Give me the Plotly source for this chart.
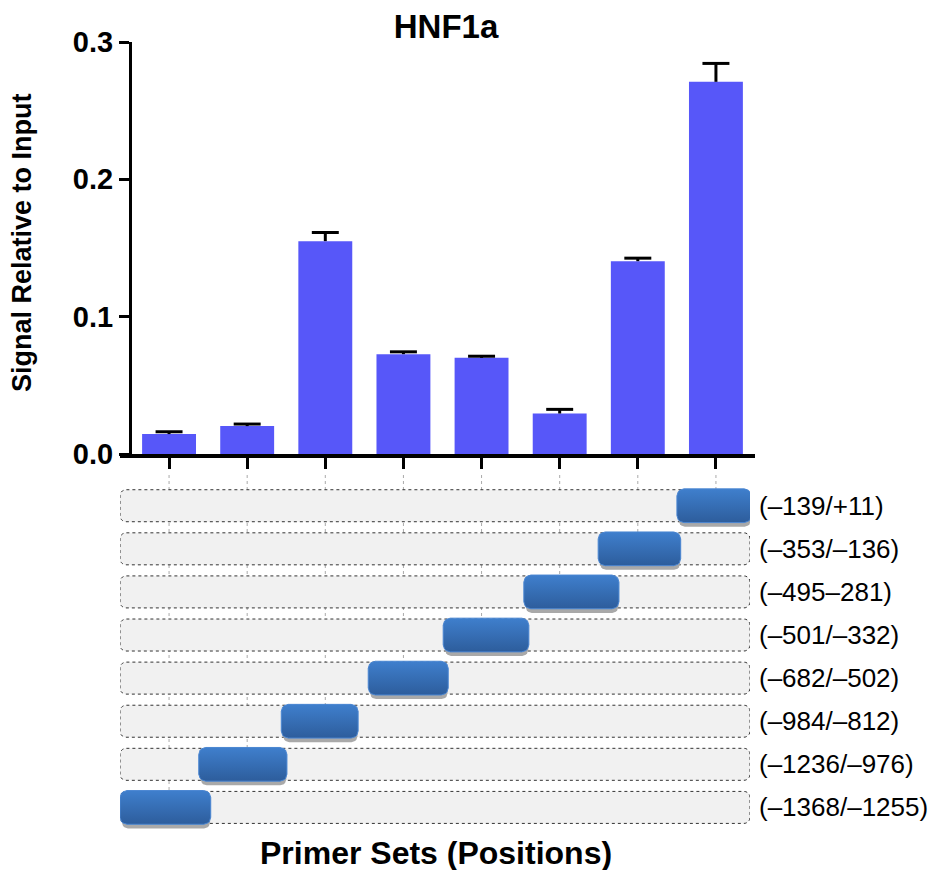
import numpy as np
import plotly.graph_objects as go

# ---------------- data ----------------
bar_pos = [0, 1, 2, 3, 4, 5, 6, 7]
signal = [0.0145, 0.0203, 0.155, 0.0727, 0.0700, 0.0295, 0.1404, 0.271]
signal_err = [0.0017, 0.0015, 0.0063, 0.0017, 0.0012, 0.0030, 0.0022, 0.0134]

primer_labels = ["(–1368/–1255)", "(–1236/–976)", "(–984/–812)", "(–682/–502)",
                 "(–501/–332)", "(–495–281)", "(–353/–136)", "(–139/+11)"]
# schematic position along the promoter track (0 = left end, 100 = right end)
box_start = [0.0, 12.5, 25.6, 39.4, 51.3, 64.1, 75.9, 88.4]
box_end = [14.4, 26.5, 37.8, 52.1, 64.9, 79.2, 89.0, 100.2]
track_start, track_end = 0, 100
rows = list(range(len(primer_labels)))  # 0 = bottom row

W, H = 933, 870
FONT = "Liberation Sans, Arial, Helvetica, sans-serif"

# ---------------- geometry helpers ----------------
px_per_x2 = (750 - 120) / 100.0
px_per_y2 = 43.1
HALF = 16 / px_per_y2
CAP = 13.5 / 78.2  # half cap width in category units


def rrect(x0, x1, y0, y1, rpx=6, n=6):
    rx = rpx / px_per_x2
    ry = rpx / px_per_y2
    xs, ys = [], []
    corners = [(x1 - rx, y1 - ry, 0), (x0 + rx, y1 - ry, 90),
               (x0 + rx, y0 + ry, 180), (x1 - rx, y0 + ry, 270)]
    for cx, cy, a0 in corners:
        for t in np.linspace(np.radians(a0), np.radians(a0 + 90), n):
            xs.append(cx + rx * np.cos(t))
            ys.append(cy + ry * np.sin(t))
    xs.append(xs[0])
    ys.append(ys[0])
    return xs, ys


def path_of(xs, ys):
    return "M " + " L ".join(f"{x:.4f},{y:.4f}" for x, y in zip(xs, ys)) + " Z"


fig = go.Figure()

# ---------------- bar chart ----------------
fig.add_trace(go.Bar(
    x=bar_pos, y=signal, width=0.69,
    marker=dict(color="#5757F9", line=dict(width=0)),
    xaxis="x", yaxis="y", showlegend=False, hoverinfo="skip"))

# upper-only error bars
ex, ey = [], []
for i, s, e in zip(bar_pos, signal, signal_err):
    ex += [i, i, None, i - CAP, i + CAP, None]
    ey += [s, s + e, None, s + e, s + e, None]
fig.add_trace(go.Scatter(x=ex, y=ey, mode="lines", xaxis="x", yaxis="y",
                         line=dict(color="black", width=3), showlegend=False,
                         hoverinfo="skip"))

shapes = []
# gray track rows
for r in rows:
    xs, ys = rrect(track_start, track_end, r - HALF, r + HALF, rpx=6)
    shapes.append(dict(type="path", path=path_of(xs, ys), xref="x2", yref="y2",
                       fillcolor="#f1f1f1", line=dict(color="#333333", width=1, dash="dot"),
                       layer="below"))

# dotted guide lines from each tick down to its primer box
y2_top = -1.452 + (H - 475) / px_per_y2
for i, r in zip(bar_pos, rows):
    shapes.append(dict(type="line", xref="x", yref="y2", x0=i, x1=i,
                       y0=y2_top, y1=r + HALF,
                       line=dict(color="#aaaaaa", width=1, dash="dot"), layer="below"))

# primer boxes (shadow + gradient box)
for r, s, e in zip(rows, box_start, box_end):
    sx, sy = rrect(s + 0.3, e - 0.1, r - HALF - 5 / px_per_y2, r + HALF - 5 / px_per_y2, rpx=6)
    fig.add_trace(go.Scatter(x=sx, y=sy, xaxis="x2", yaxis="y2", mode="lines",
                             fill="toself", fillcolor="#a9a9a9", line=dict(width=0),
                             showlegend=False, hoverinfo="skip"))
    bx, by = rrect(s, e, r - HALF - 0.02, r + HALF + 0.02, rpx=7)
    fig.add_trace(go.Scatter(x=bx, y=by, xaxis="x2", yaxis="y2", mode="lines",
                             fill="toself",
                             fillgradient=dict(type="vertical",
                                               colorscale=[[0, "#2d5d9c"], [1, "#3f7fcd"]]),
                             line=dict(width=1, color="#4a86d2"),
                             showlegend=False, hoverinfo="skip"))

annotations = []
for r, lab in zip(rows, primer_labels):
    annotations.append(dict(x=track_end, y=r, xref="x2", yref="y2", text=lab,
                            showarrow=False, xanchor="left", yanchor="middle", xshift=7,
                            font=dict(family=FONT, size=26, color="black")))

annotations.append(dict(x=22 / W, y=1 - 243 / H, xref="paper", yref="paper",
                        text="Signal Relative to Input", textangle=-90, showarrow=False,
                        xanchor="center", yanchor="middle",
                        font=dict(family=FONT, size=27, color="black", weight="bold")))
annotations.append(dict(x=436 / W, y=1 - 853 / H, xref="paper", yref="paper",
                        text="Primer Sets (Positions)", showarrow=False,
                        xanchor="center", yanchor="middle",
                        font=dict(family=FONT, size=32, color="black", weight="bold")))

fig.update_layout(
    width=W, height=H, margin=dict(l=0, r=0, t=0, b=0, autoexpand=False),
    paper_bgcolor="white", plot_bgcolor="rgba(0,0,0,0)",
    title=dict(text="HNF1a", x=446 / W, y=1 - 26 / H, xanchor="center", yanchor="middle",
               automargin=False,
               font=dict(family=FONT, size=33, color="black", weight="bold")),
    xaxis=dict(domain=[120 / W, 755 / W], range=[-0.5 - 10 / 78.2, 7.5],
               tickvals=bar_pos, ticktext=[""] * len(bar_pos),
               ticks="outside", ticklen=11, tickwidth=3, tickcolor="black",
               showline=True, linewidth=4, linecolor="black", automargin=False,
               showgrid=False, zeroline=False, anchor="y", fixedrange=True),
    yaxis=dict(domain=[1 - 454 / H, 1 - 42 / H], range=[0, 0.3],
               tickvals=[0, 0.1, 0.2, 0.3], ticktext=["0.0", "0.1", "0.2", "0.3"],
               ticks="outside", ticklen=10, tickwidth=3, tickcolor="black",
               showline=True, linewidth=3, linecolor="black", automargin=False,
               tickfont=dict(family=FONT, size=29, color="black", weight="bold"),
               showgrid=False, zeroline=False, anchor="free", position=130 / W,
               fixedrange=True),
    xaxis2=dict(domain=[120 / W, 750 / W], range=[0, 100], visible=False,
                anchor="y2", fixedrange=True, automargin=False),
    yaxis2=dict(domain=[0, 410 / H], range=[-1.452, -1.452 + 410 / px_per_y2],
                visible=False, anchor="x2", fixedrange=True, automargin=False),
    shapes=shapes, annotations=annotations,
)

fig.write_html("out.html")
